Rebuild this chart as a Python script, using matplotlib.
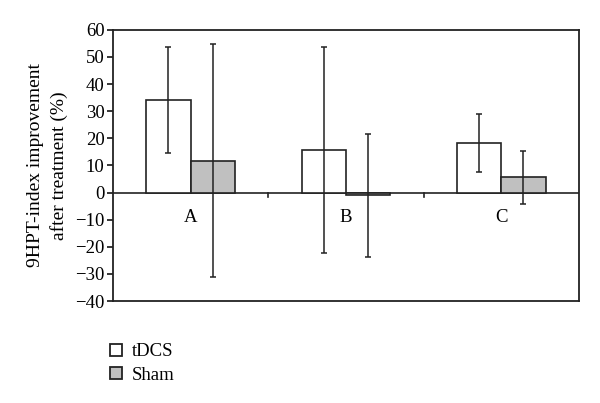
import numpy as np
import matplotlib
matplotlib.use("Agg")
import matplotlib.pyplot as plt
from matplotlib.lines import Line2D

## Data

groups = ["A", "B", "C"]
tdcs = [34.2, 15.7, 18.4]
tdcs_err = [19.5, 38.0, 10.7]
sham = [11.8, -1.0, 5.6]
sham_err = [42.8, 22.6, 9.8]

## Style

plt.rcParams["font.family"] = ["Liberation Serif", "DejaVu Serif"]
plt.rcParams["font.size"] = 13
edge = "#222222"

fig = plt.figure(figsize=(6, 4.03), dpi=100)
ax = fig.add_axes([0.188, 0.253, 0.777, 0.673])

x = np.arange(len(groups))
w = 0.285
ax.bar(x - w / 2, tdcs, w, color="white", edgecolor=edge, linewidth=1.2, zorder=2)
ax.bar(x + w / 2, sham, w, color="#c0c0c0", edgecolor=edge, linewidth=1.2, zorder=2)
ax.errorbar(x - w / 2, tdcs, yerr=tdcs_err, fmt="none", ecolor=edge,
            elinewidth=1.1, capsize=2.5, capthick=1.1, zorder=3)
ax.errorbar(x + w / 2, sham, yerr=sham_err, fmt="none", ecolor=edge,
            elinewidth=1.1, capsize=2.5, capthick=1.1, zorder=3)

# zero line with category separators
ax.axhline(0, color=edge, linewidth=1.2, zorder=1)
for b in x[1:] - 0.5:
    ax.plot([b, b], [0, -1.5], color=edge, linewidth=1.2, zorder=1)
for i, g in enumerate(groups):
    ax.text(i, -6, g, ha="center", va="top", fontsize=13.5)

ax.set_xlim(-0.5, 2.5)
ax.set_ylim(-40, 60)
ax.set_yticks(range(-40, 61, 10))
ax.set_xticks([])
ax.tick_params(axis="y", length=4, width=1.1, labelsize=13.5, pad=2)
for s in ax.spines.values():
    s.set_color(edge)
    s.set_linewidth(1.3)

ax.set_ylabel("9HPT-index improvement\nafter treatment (%)", fontsize=14,
              labelpad=5, linespacing=1.45)

handles = [
    Line2D([], [], marker="s", linestyle="none", markersize=8,
           markerfacecolor="white", markeredgecolor=edge, markeredgewidth=1.3),
    Line2D([], [], marker="s", linestyle="none", markersize=8,
           markerfacecolor="#c0c0c0", markeredgecolor=edge, markeredgewidth=1.3),
]
fig.legend(handles, ["tDCS", "Sham"], loc="upper left",
           bbox_to_anchor=(0.168, 0.167), frameon=False, fontsize=13.5,
           handlelength=0.8, handletextpad=0.45, labelspacing=0.35,
           borderaxespad=0)

fig.savefig("out.png", dpi=100)
